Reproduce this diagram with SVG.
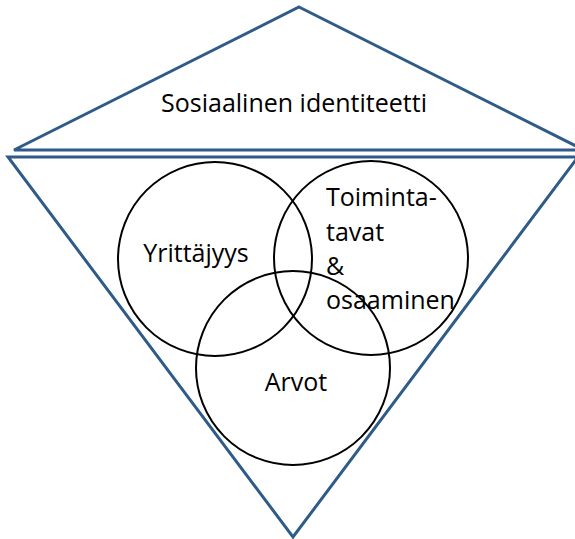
<svg xmlns="http://www.w3.org/2000/svg" width="575" height="539" viewBox="0 0 575 539">
<style>
.tri{fill:none;stroke:#2f5b88;stroke-width:3;stroke-linejoin:miter}
.c{fill:none;stroke:#000;stroke-width:2}
.t{font-family:"Open Sans","Liberation Sans",sans-serif;font-size:25px;fill:#000}
</style>
<rect width="575" height="539" fill="#fff"/>
<g id="top-triangle"><polygon class="tri" points="299,7 584,150 14,150"/><text class="t" x="294" y="112" text-anchor="middle">Sosiaalinen identiteetti</text></g>
<g id="bottom-triangle"><polygon class="tri" points="8,157 578,157 293,537"/></g>
<g id="yrittajyys"><circle class="c" cx="215" cy="259" r="97"/><text class="t" x="196" y="262" text-anchor="middle">Yrittäjyys</text></g>
<g id="toimintatavat"><circle class="c" cx="371" cy="258" r="97"/><text class="t" x="326" y="206">Toiminta-</text><text class="t" x="326" y="241">tavat</text><text class="t" x="326" y="275">&amp;</text><text class="t" x="326" y="309">osaaminen</text></g>
<g id="arvot"><circle class="c" cx="293" cy="368" r="97"/><text class="t" x="296" y="391" text-anchor="middle">Arvot</text></g>
<g id="connectors"/>
</svg>
